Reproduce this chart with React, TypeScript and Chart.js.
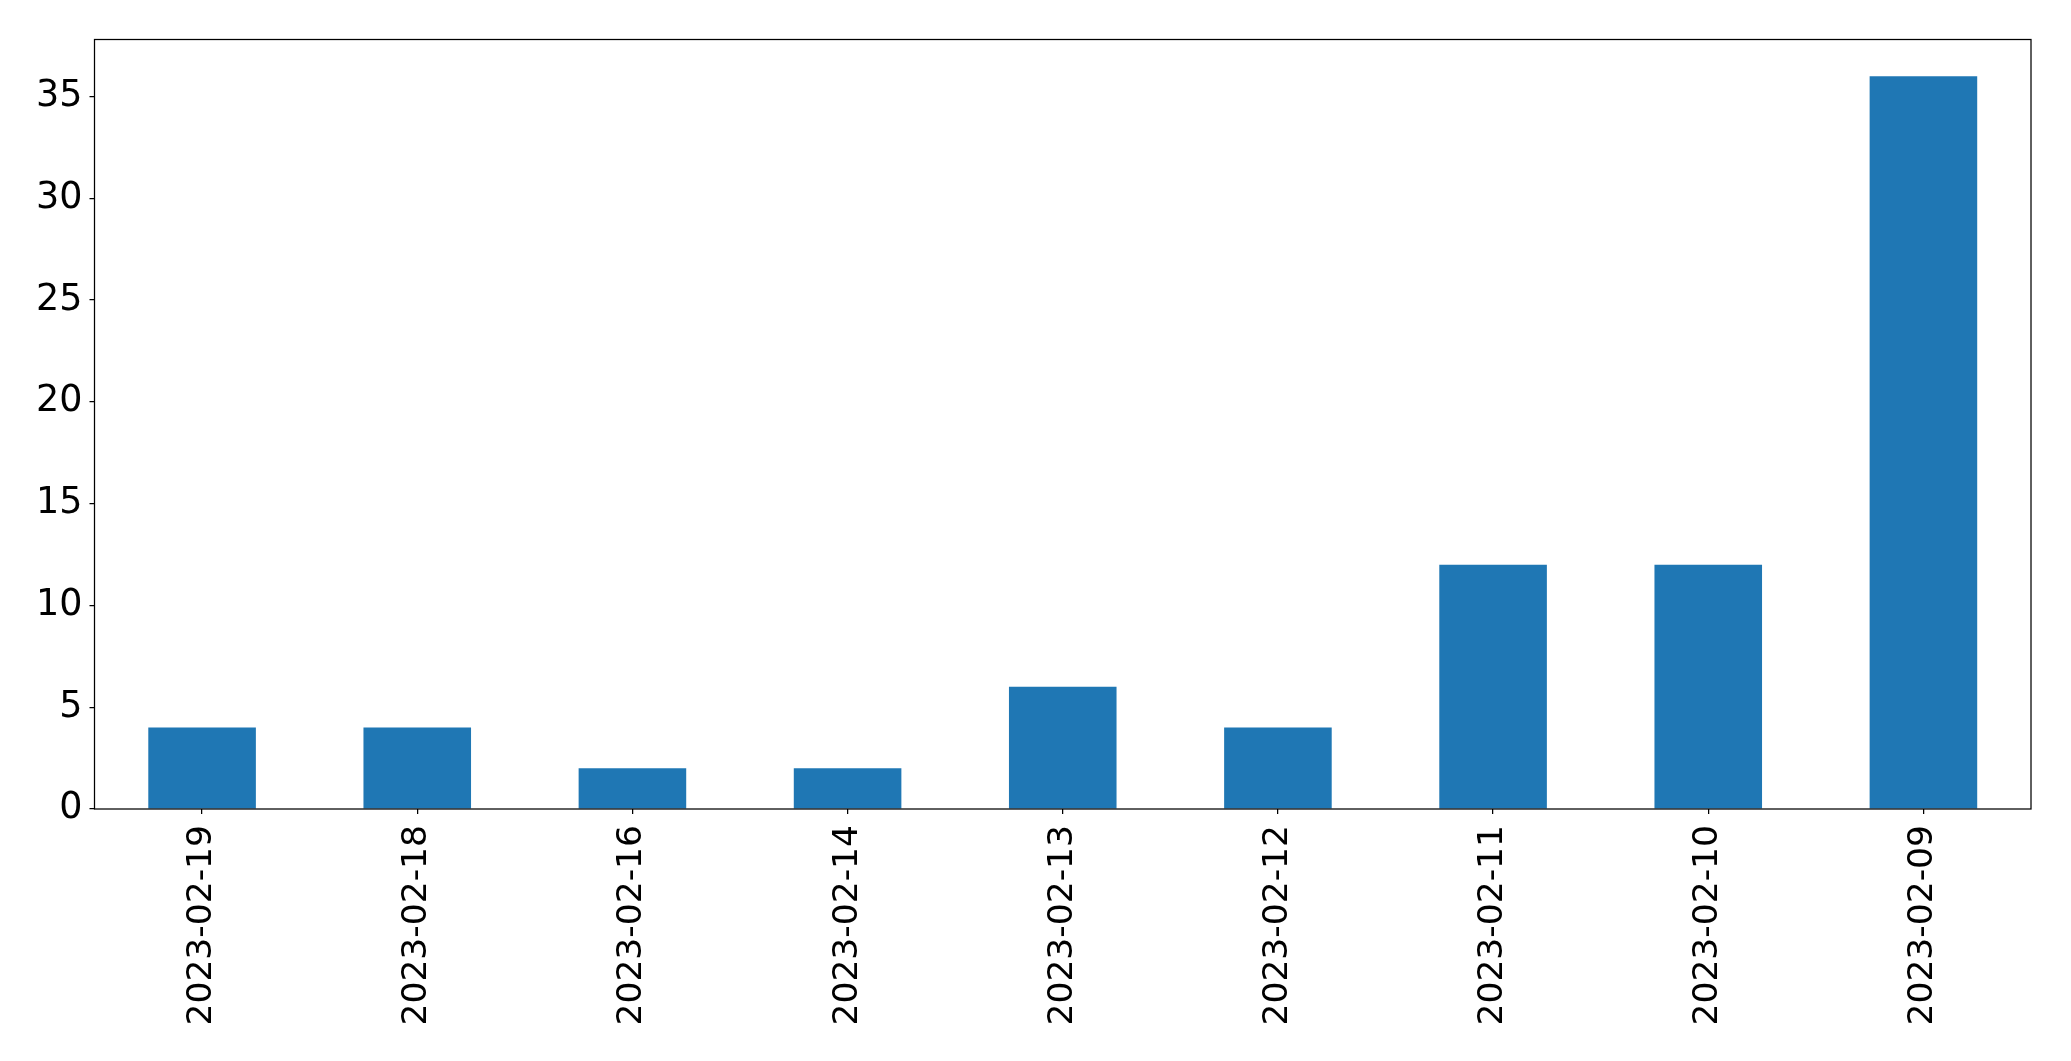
import React, { useEffect, useRef } from "react";
import { Chart, registerables } from "chart.js";

Chart.register(...registerables);

const categories = [
  "2023-02-19",
  "2023-02-18",
  "2023-02-16",
  "2023-02-14",
  "2023-02-13",
  "2023-02-12",
  "2023-02-11",
  "2023-02-10",
  "2023-02-09",
];
const counts = [4, 4, 2, 2, 6, 4, 12, 12, 36];
const yMax = 37.8;
const yStep = 5;

const FONT = "'DejaVu Sans', sans-serif";

const frame = {
  id: "frame",
  afterDraw(chart: any) {
    const { ctx, chartArea } = chart;
    ctx.save();
    ctx.strokeStyle = "#000";
    ctx.lineWidth = 1.25;
    ctx.strokeRect(chartArea.left, chartArea.top, chartArea.right - chartArea.left, chartArea.bottom - chartArea.top);
    ctx.restore();
  },
};

export default function App() {
  const ref = useRef<HTMLCanvasElement>(null);
  useEffect(() => {
    if (!ref.current) return;
    const chart = new Chart(ref.current, {
      type: "bar",
      data: {
        labels: categories,
        datasets: [
          {
            data: counts,
            backgroundColor: "#1f77b4",
            barPercentage: 0.5,
            categoryPercentage: 1,
          },
        ],
      },
      options: {
        animation: false,
        responsive: false,
        devicePixelRatio: 1,
        layout: { padding: { top: 39.5, right: 40, left: 0, bottom: 0 } },
        plugins: { legend: { display: false }, tooltip: { enabled: false } },
        scales: {
          x: {
            afterFit: (s: any) => {
              s.height = 252;
            },
            border: { display: false },
            grid: {
              display: true,
              offset: false,
              drawOnChartArea: false,
              drawTicks: true,
              tickLength: 5,
              tickColor: "#000",
              lineWidth: 1.25,
            },
            ticks: {
              color: "#000",
              font: { family: FONT, size: 34.5 },
              maxRotation: 90,
              minRotation: 90,
              padding: 11,
              autoSkip: false,
            },
          },
          y: {
            min: 0,
            max: yMax,
            afterFit: (s: any) => {
              s.width = 94.5;
            },
            border: { display: false },
            grid: {
              display: true,
              drawOnChartArea: false,
              drawTicks: true,
              tickLength: 5,
              tickColor: "#000",
              lineWidth: 1.25,
            },
            ticks: {
              stepSize: yStep,
              includeBounds: false,
              color: "#000",
              font: { family: FONT, size: 36.5 },
              padding: 7,
            },
          },
        },
      },
      plugins: [frame],
    });
    return () => chart.destroy();
  }, []);
  return (
    <div style={{ position: "fixed", left: 0, top: 0, width: 2071, height: 1061, background: "#fff" }}>
      <canvas ref={ref} width={2071} height={1061} />
    </div>
  );
}
